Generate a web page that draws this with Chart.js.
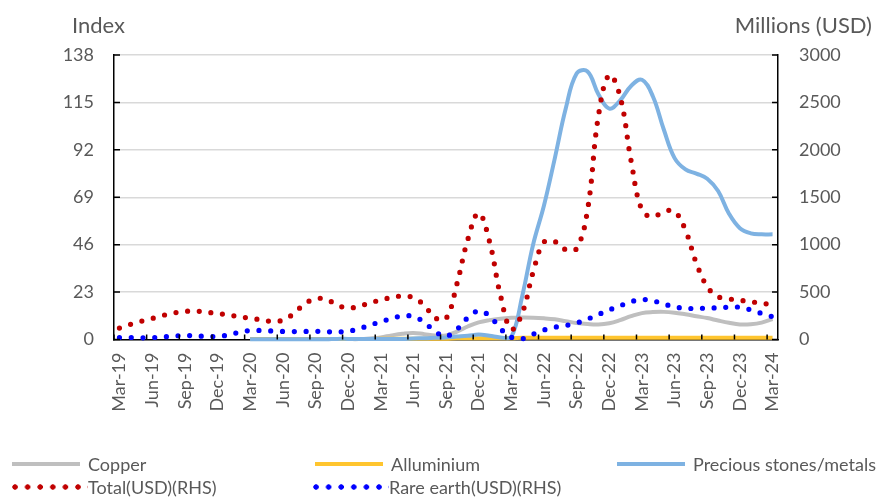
<!DOCTYPE html>
<html><head><meta charset="utf-8">
<script src="https://cdn.jsdelivr.net/npm/chart.js@4.4.1/dist/chart.umd.min.js"></script>
<style>
html,body{margin:0;padding:0;background:#fff;}
#wrap{position:relative;width:894px;height:497px;font-family:Lato,sans-serif;color:#595959;overflow:hidden;}
#c{position:absolute;left:0;top:0;}
.axt{position:absolute;top:11px;font-size:22px;white-space:nowrap;}
.li{position:absolute;display:flex;align-items:center;white-space:nowrap;font-size:18px;height:22px;}
.sw{display:inline-block;margin-right:8px;}
</style></head>
<body><div id="wrap"><canvas id="c" width="894" height="497"></canvas>
<div class="axt" style="left:72px">Index</div>
<div class="axt" style="right:22px">Millions (USD)</div>
<div id="legend"></div></div>
<script>
const months = ['Mar-19','Apr-19','May-19','Jun-19','Jul-19','Aug-19','Sep-19','Oct-19','Nov-19','Dec-19','Jan-20','Feb-20',
'Mar-20','Apr-20','May-20','Jun-20','Jul-20','Aug-20','Sep-20','Oct-20','Nov-20','Dec-20','Jan-21','Feb-21',
'Mar-21','Apr-21','May-21','Jun-21','Jul-21','Aug-21','Sep-21','Oct-21','Nov-21','Dec-21','Jan-22','Feb-22',
'Mar-22','Apr-22','May-22','Jun-22','Jul-22','Aug-22','Sep-22','Oct-22','Nov-22','Dec-22','Jan-23','Feb-23',
'Mar-23','Apr-23','May-23','Jun-23','Jul-23','Aug-23','Sep-23','Oct-23','Nov-23','Dec-23','Jan-24','Feb-24','Mar-24'];
const tickLabels = ['Mar-19','Jun-19','Sep-19','Dec-19','Mar-20','Jun-20','Sep-20','Dec-20','Mar-21','Jun-21','Sep-21',
'Dec-21','Mar-22','Jun-22','Sep-22','Dec-22','Mar-23','Jun-23','Sep-23','Dec-23','Mar-24'];
const indexTicks = [0,23,46,69,92,115,138];
const usdTicks = [0,500,1000,1500,2000,2500,3000];

// Index series (left axis), start Mar-20
const copper = [null,null,null,null,null,null,null,null,null,null,null,null,
0.2,0.2,0.2,0.2,0.2,0.2,0.2,0.2,0.2,0.2,0.2,0.5,
1.0,2.0,2.8,3.2,2.6,2.0,2.0,3.8,6.3,8.3,9.4,10.1,
10.5,10.7,10.6,10.3,9.8,8.9,8.0,7.5,7.3,7.9,9.4,11.3,
12.8,13.3,13.4,13.0,12.2,11.3,10.4,9.2,8.1,7.3,7.4,8.2,9.9];
const aluminium = [null,null,null,null,null,null,null,null,null,null,null,null,
0.2,0.2,0.2,0.2,0.2,0.2,0.2,0.2,0.2,0.2,0.2,0.2,
0.4,0.4,0.4,0.4,0.4,0.4,0.4,0.6,0.6,0.6,0.6,0.6,
0.6,0.8,0.8,0.8,0.8,0.8,0.8,0.8,0.8,0.8,0.8,0.8,
0.8,0.8,0.8,0.8,0.8,0.8,0.8,0.8,0.8,0.8,0.8,0.8,0.8];
const precious = [null,null,null,null,null,null,null,null,null,null,null,null,
0.1,0.1,0.1,0.1,0.1,0.1,0.1,0.1,0.3,0.3,0.3,0.3,
0.3,0.3,0.3,0.5,0.6,0.8,1.0,1.4,1.8,2.4,1.8,1.0,
1.2,21,46,65,88,112,129,130,119,112,116,123,
126,118,102,88,82.5,80.5,78,72,61,54,51.5,51,51];
// Millions USD series (right axis)
const totalUSD = [120,159,192,222,254,280,297,299,288,275,259,240,
225,208,192,204,272,375,428,425,362,334,348,388,
415,444,458,441,362,228,220,584,1053,1333,1032,467,
110,278,710,1027,1032,948,960,1364,2356,2790,2560,1887,
1364,1294,1349,1349,1153,805,557,452,428,414,398,383,367];
const rareEarthUSD = [21,21,18,20,27,37,42,39,32,34,47,77,
94,95,90,85,84,85,87,82,79,88,112,152,
186,223,248,243,183,85,35,107,230,301,249,115,
24,8,56,100,129,148,174,215,264,312,356,399,
421,408,375,344,329,328,331,335,341,340,312,275,240];

const FONT = 'Lato';
const GREY = '#595959';

function solid(label, data, color, order){
  return {label, data, yAxisID:'y', borderColor:color, backgroundColor:color, borderWidth:4,
    pointRadius:0, tension:0.4, fill:false, order, clip:6, spanGaps:false, _style:'solid'};
}
function dotted(label, data, color, order){
  return {label, data, yAxisID:'y1', borderColor:color, backgroundColor:color, borderWidth:5.2,
    borderDash:[0,11.7], borderCapStyle:'round', pointRadius:0, tension:0.4, fill:false, order, clip:6, _style:'dot'};
}

const innerTicks = {
  id:'innerTicks',
  afterDatasetsDraw(chart){
    const {ctx, chartArea:a, scales} = chart;
    ctx.save(); ctx.strokeStyle='#000'; ctx.lineWidth=1.5; ctx.beginPath();
    scales.y.ticks.forEach((t,i)=>{const p=scales.y.getPixelForTick(i); ctx.moveTo(a.left,p); ctx.lineTo(a.left+6,p);});
    scales.y1.ticks.forEach((t,i)=>{const p=scales.y1.getPixelForTick(i); ctx.moveTo(a.right-6,p); ctx.lineTo(a.right,p);});
    const x = scales.x;
    const w = x.getPixelForValue(1) - x.getPixelForValue(0);
    chart.data.labels.forEach((l,k)=>{
      if(tickLabels.includes(l)){const p = x.getPixelForValue(k) - w/2; ctx.moveTo(p,a.bottom); ctx.lineTo(p,a.bottom-5);}
    });
    ctx.stroke(); ctx.restore();
  }
};

const chart = new Chart(document.getElementById('c'), {
  type:'line',
  data:{labels:months, datasets:[
    solid('Copper', copper, '#BFBFBF', 5),
    solid('Alluminium', aluminium, '#FFC52E', 4),
    solid('Precious stones/metals', precious, '#7EB2E2', 3),
    dotted('Total(USD)(RHS)', totalUSD, '#C00000', 2),
    dotted('Rare earth(USD)(RHS)', rareEarthUSD, '#0000FF', 1)
  ]},
  options:{
    responsive:false, animation:false, devicePixelRatio:1,
    layout:{padding:{top:55,left:0,right:0,bottom:0}},
    plugins:{legend:{display:false}, tooltip:{enabled:false}, title:{display:false}},
    scales:{
      x:{type:'category', offset:true,
        grid:{display:false, drawTicks:false},
        border:{display:true, color:'#000', width:1.5},
        ticks:{autoSkip:false, maxRotation:90, minRotation:90, padding:13, color:GREY,
          font:{family:FONT,size:18},
          callback(v,i){const l=this.getLabelForValue(v); return tickLabels.includes(l)?l:'';}},
        afterFit(s){s.height=157.5;}
      },
      y:{position:'left', min:0, max:138,
        afterBuildTicks(s){s.ticks = indexTicks.map(v=>({value:v}));},
        ticks:{color:GREY, font:{family:FONT,size:18}, padding:20, callback:v=>String(v)},
        grid:{color:'#D9D9D9', lineWidth:1.5, drawTicks:false},
        border:{display:true, color:'#000', width:1.5},
        afterFit(s){s.width=114;}
      },
      y1:{position:'right', min:0, max:3000,
        afterBuildTicks(s){s.ticks = usdTicks.map(v=>({value:v}));},
        ticks:{color:GREY, font:{family:FONT,size:18}, padding:21, callback:v=>String(v)},
        grid:{drawOnChartArea:false, drawTicks:false},
        border:{display:true, color:'#000', width:1.5},
        afterFit(s){s.width=116;}
      }
    }
  },
  plugins:[innerTicks]
});

// HTML legend built from the chart's datasets
const legendSlots = [[12,453],[315,453],[617,453],[12,476],[313,476]];
const lg = document.getElementById('legend');
chart.data.datasets.forEach((ds,i)=>{
  const it = document.createElement('div'); it.className='li';
  it.style.left = legendSlots[i][0]+'px'; it.style.top = legendSlots[i][1]+'px';
  const sw = document.createElement('span'); sw.className='sw';
  if(ds._style==='solid'){
    sw.style.width='68px'; sw.style.height='4px'; sw.style.background=ds.borderColor; sw.style.marginRight='8px';
  } else {
    sw.style.width='76px'; sw.style.height='6px'; sw.style.marginRight='0px';
    sw.style.backgroundImage='radial-gradient(circle at 3px 3px, '+ds.borderColor+' 2.4px, transparent 3px)';
    sw.style.backgroundSize='12.6px 6px'; sw.style.backgroundRepeat='repeat-x';
  }
  const tx = document.createElement('span'); tx.textContent = ds.label;
  it.appendChild(sw); it.appendChild(tx); lg.appendChild(it);
});
</script>
</body></html>
